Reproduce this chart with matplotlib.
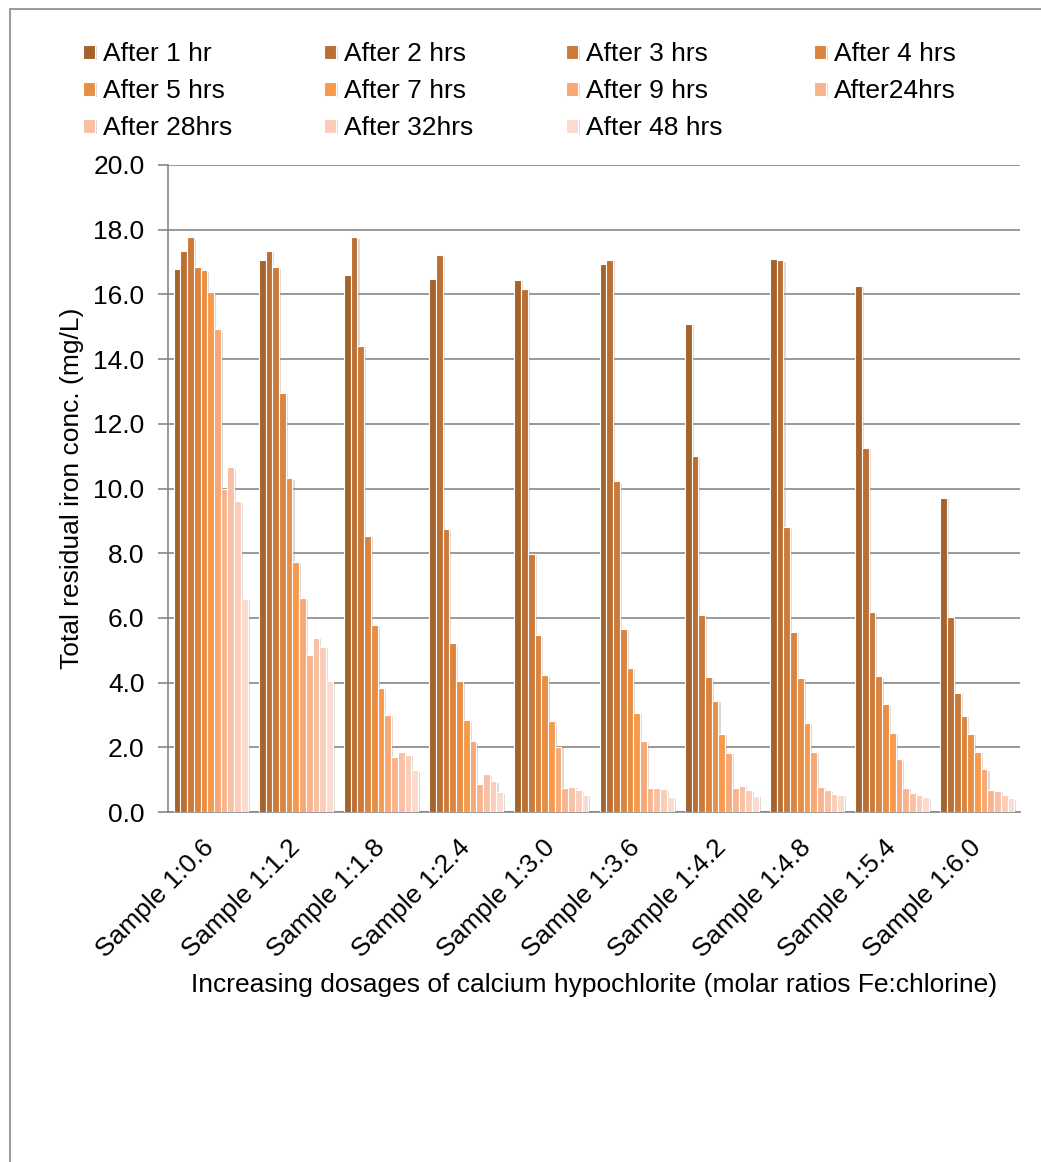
import matplotlib
matplotlib.use("Agg")
import matplotlib.pyplot as plt
import matplotlib.patheffects as pe
from matplotlib.patches import Rectangle
import numpy as np

plt.rcParams['font.family'] = ['Liberation Sans', 'DejaVu Sans']

samples = ["Sample 1:0.6", "Sample 1:1.2", "Sample 1:1.8", "Sample 1:2.4", "Sample 1:3.0",
           "Sample 1:3.6", "Sample 1:4.2", "Sample 1:4.8", "Sample 1:5.4", "Sample 1:6.0"]

series_labels = ["After 1 hr", "After 2 hrs", "After 3 hrs", "After 4 hrs", "After 5 hrs",
                 "After 7 hrs", "After 9 hrs", "After24hrs", "After 28hrs", "After 32hrs",
                 "After 48 hrs"]

after_1h = [16.79, 17.05, 16.59, 16.47, 16.46, 16.93, 15.09, 17.09, 16.26, 9.71]
after_2h = [17.34, 17.34, 17.77, 17.21, 16.17, 17.07, 11.00, 17.05, 11.24, 6.04]
after_3h = [17.77, 16.84, 14.42, 8.75, 7.99, 10.22, 6.10, 8.81, 6.17, 3.68]
after_4h = [16.85, 12.95, 8.53, 5.22, 5.46, 5.66, 4.18, 5.57, 4.19, 2.98]
after_5h = [16.74, 10.31, 5.79, 4.04, 4.23, 4.44, 3.44, 4.14, 3.33, 2.42]
after_7h = [16.08, 7.74, 3.84, 2.83, 2.82, 3.07, 2.41, 2.74, 2.45, 1.87]
after_9h = [14.92, 6.61, 3.00, 2.18, 2.02, 2.18, 1.83, 1.84, 1.63, 1.32]
after_24h = [9.97, 4.84, 1.69, 0.88, 0.75, 0.75, 0.75, 0.78, 0.74, 0.67]
after_28h = [10.66, 5.38, 1.84, 1.16, 0.78, 0.75, 0.81, 0.67, 0.59, 0.66]
after_32h = [9.60, 5.11, 1.76, 0.95, 0.67, 0.70, 0.67, 0.57, 0.52, 0.52]
after_48h = [6.59, 4.05, 1.29, 0.61, 0.53, 0.47, 0.50, 0.54, 0.46, 0.42]

series_values = [after_1h, after_2h, after_3h, after_4h, after_5h, after_7h,
                 after_9h, after_24h, after_28h, after_32h, after_48h]

colors = ["#A6622B", "#BC6F33", "#CC7A3A", "#DA843F", "#E88F45", "#F79A4C",
          "#F8A874", "#F9B48E", "#FAC0A4", "#FBCDB9", "#FCDACC"]

grey = "#878787"
fs = 19

fig = plt.figure(figsize=(10.41, 11.62), dpi=100)
ax = fig.add_axes([168 / 1041, 1 - 812 / 1162, 852 / 1041, 647 / 1162])

# outer chart-area frame
fig.add_artist(Rectangle((10 / 1041, -0.1), 1.2, 1 - 9 / 1162 + 0.1,
                         transform=fig.transFigure, fill=False,
                         edgecolor=grey, linewidth=1.2, zorder=0))

n_series = len(series_values)
x = np.arange(len(samples))
group_w = 0.867
bar_w = group_w / n_series

shadow = [pe.SimplePatchShadow(offset=(1.5, -1), shadow_rgbFace="#9a9a9a", alpha=0.35),
          pe.Normal()]

containers = []
for i, (vals, lab, col) in enumerate(zip(series_values, series_labels, colors)):
    pos = x - group_w / 2 + bar_w * (i + 0.5)
    bc = ax.bar(pos, vals, width=bar_w, color=col, edgecolor="white",
                linewidth=0.8, label=lab, zorder=3)
    for p in bc.patches:
        p.set_path_effects(shadow)
    containers.append(bc)

ax.set_xlim(-0.5, len(samples) - 0.5)
ax.set_ylim(0, 20)
yt = np.arange(0, 20.1, 2)
ax.set_yticks(yt)
ax.set_yticklabels([f"{v:.1f}" for v in yt], fontsize=fs)
ax.yaxis.grid(True, color=grey, linewidth=1.2, zorder=0)
ax.set_axisbelow(True)

for s in ["top", "right"]:
    ax.spines[s].set_visible(False)
for s in ["left", "bottom"]:
    ax.spines[s].set_color(grey)
    ax.spines[s].set_linewidth(1.2)

ax.tick_params(axis="y", direction="out", length=7, width=1.2, color=grey, pad=10)
ax.tick_params(axis="x", length=0, pad=23)
ax.set_xticks(x)
ax.set_xticklabels(samples, rotation=45, ha="right", va="center",
                   rotation_mode="anchor", fontsize=fs)

ax.set_ylabel("Total residual iron conc. (mg/L)", fontsize=fs, va="center")
ax.yaxis.set_label_coords((72 - 168) / 852, 0.5)
ax.set_xlabel("Increasing dosages of calcium hypochlorite (molar ratios Fe:chlorine)",
              fontsize=fs, va="center")
ax.xaxis.set_label_coords((594 - 168) / 852, (812 - 985) / 647)

# legend laid out row by row across four columns
order = [0, 4, 8, 1, 5, 9, 2, 6, 10, 3, 7]
handles = [containers[k] for k in order]
labels = [series_labels[k] for k in order]
fig.legend(handles, labels, ncol=4, loc="upper left",
           bbox_to_anchor=(83 / 1041, 1 - 42 / 1162), frameon=False,
           fontsize=fs, handlelength=0.45, handleheight=0.45,
           handletextpad=0.3, columnspacing=3.5, labelspacing=0.5,
           borderpad=0, borderaxespad=0)

fig.savefig("out.png", dpi=100)
